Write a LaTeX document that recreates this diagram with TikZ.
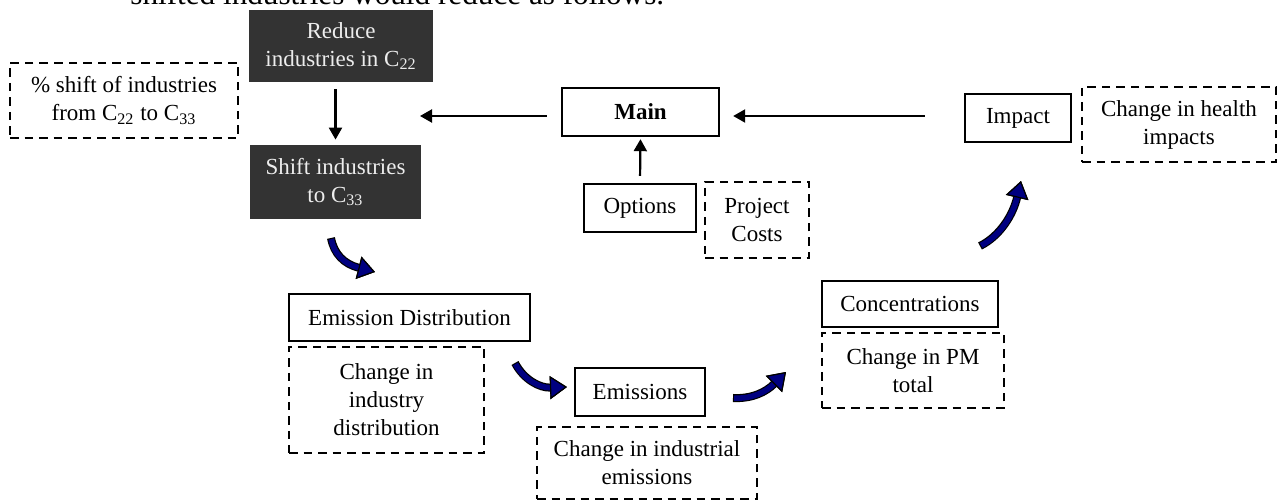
\documentclass[tikz,border=0pt]{standalone}
\usepackage{fontspec}
\setmainfont{Liberation Serif}
\usetikzlibrary{arrows.meta}
\definecolor{boxdark}{HTML}{333333}
\definecolor{arrowblue}{HTML}{000080}
% thick navy block arrow: black outline pass, then navy core
\newcommand\bluearrow[1]{\draw[blueback] #1; \draw[bluefront] #1;}
\begin{document}
\begin{tikzpicture}[x=0.5pt,y=-0.5pt,
  every node/.style={inner sep=0pt, align=center, font=\fontsize{11.5}{14}\selectfont},
  sz/.style 2 args={minimum width=#1*0.5pt, minimum height=#2*0.5pt},
  solidbox/.style={draw=black, line width=1.2pt},
  dashbox/.style={draw=black, line width=1.3pt, dash pattern=on 4.25pt off 3pt},
  darkbox/.style={fill=boxdark, text=white!93!black},
  arr/.style={line width=1.1pt, -{Triangle[length=6pt,width=6.5pt]}},
  bluetip/.style={-{Triangle[length=8.5pt,width=11.5pt,color=black,fill=arrowblue,line width=0.6pt]}},
  blueback/.style={bluetip, draw=black, line width=4pt},
  bluefront/.style={bluetip, draw=arrowblue, line width=2.8pt, shorten <=0.6pt},
]
\useasboundingbox (0,0) rectangle (1282,501);

% last line of the paragraph above the chart
\node[anchor=base west, font=\fontsize{15.6}{18}\selectfont] (bodyline) at (130,4.5) {shifted industries would reduce as follows.};

% left column
\node[dashbox, sz={228}{75}] (pctshift) at (124,100.5) {\% shift of industries\\from C\textsubscript{22} to C\textsubscript{33}};
\node[darkbox, sz={184}{72}] (reduce) at (341,46) {Reduce\\industries in C\textsubscript{22}};
\node[darkbox, sz={171}{74}] (shiftto) at (335.5,182) {Shift industries\\to C\textsubscript{33}};

% centre
\node[solidbox, sz={157}{48}, font=\fontsize{11.5}{14}\selectfont\bfseries] (main) at (640.5,112) {Main};
\node[solidbox, sz={112}{48}] (options) at (640,208) {Options};
\node[dashbox, sz={104}{76}] (costs) at (757,220) {Project\\Costs};

% right
\node[solidbox, sz={106}{48}] (impact) at (1018,118) {Impact};
\node[dashbox, sz={194}{75}] (health) at (1179,124.5) {Change in health\\impacts};
\node[solidbox, sz={176}{46}] (conc) at (910,304) {Concentrations};
\node[dashbox, sz={182}{75}] (pm) at (913,370.5) {Change in PM\\total};

% bottom
\node[solidbox, sz={241}{47}] (emdist) at (409.5,317.5) {Emission Distribution};
\node[dashbox, sz={195}{106}] (inddist) at (386.5,400) {Change in\\industry\\distribution};
\node[solidbox, sz={130}{48}] (emis) at (640,392) {Emissions};
\node[dashbox, sz={220}{72}] (indem) at (647,463) {Change in industrial\\emissions};

% straight connectors
\coordinate (toreduce) at (420,116);
\draw[arr, shorten <=3.5pt, shorten >=2.5pt] (reduce.south -| shiftto.north) -- (shiftto.north);
\draw[arr, shorten <=7pt] (main.west |- toreduce) -- (toreduce);
\draw[arr, shorten <=19.5pt, shorten >=6.5pt] (impact.west |- toreduce) -- (main.east |- toreduce);
\draw[arr, shorten <=3.5pt, shorten >=1pt] (options.north) -- (main.south);

% curved flow arrows
\coordinate (a1s) at (331,238); \coordinate (a1e) at (375,272);
\coordinate (a2s) at (515,363); \coordinate (a2e) at (567,387);
\coordinate (a3s) at (733,398); \coordinate (a3e) at (786,372);
\coordinate (a4s) at (980,246); \coordinate (a4e) at (1021,181);
\bluearrow{(a1s) .. controls (334,254) and (344,264) .. (a1e)}
\bluearrow{(a2s) .. controls (524,380) and (540,388) .. (a2e)}
\bluearrow{(a3s) .. controls (752,399) and (766,392) .. (a3e)}
\bluearrow{(a4s) .. controls (1000,236) and (1013,215) .. (a4e)}
\end{tikzpicture}
\end{document}
